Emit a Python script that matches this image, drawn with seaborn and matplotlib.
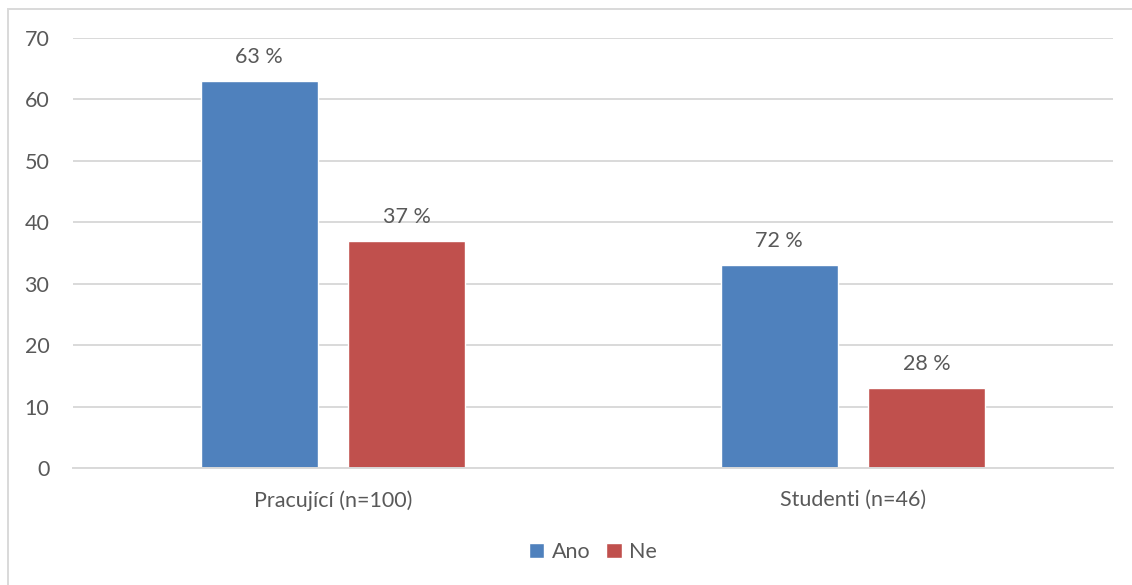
import matplotlib
matplotlib.use("Agg")
import matplotlib.pyplot as plt
from matplotlib.patches import Rectangle
import seaborn as sns
import pandas as pd

# Survey answers by group (counts of respondents)
groups = ["Pracující", "Studenti"]
group_n = [100, 46]
answers = ["Ano", "Ne"]
ano_counts = [63, 33]
ne_counts = [37, 13]
colors = ["#4F81BD", "#C0504D"]

rows = []
for g, n, a, ne in zip(groups, group_n, ano_counts, ne_counts):
    label = f"{g} (n={n})"
    rows.append({"skupina": label, "odpoved": "Ano", "pocet": a, "n": n})
    rows.append({"skupina": label, "odpoved": "Ne", "pocet": ne, "n": n})
df = pd.DataFrame(rows)

sns.set_theme(style="white")
plt.rcParams["font.family"] = ["Lato", "DejaVu Sans"]
text_color = "#595959"
grid_color = "#D9D9D9"
fs = 15.5

fig = plt.figure(figsize=(11.32, 5.85), dpi=100)
ax = fig.add_axes([73 / 1132, 117 / 585, 1040 / 1132, 430 / 585])

sns.barplot(data=df, x="skupina", y="pocet", hue="odpoved", hue_order=answers,
            palette=colors, width=0.568, gap=0.208, saturation=1, ax=ax,
            legend=True, errorbar=None)

ax.set_ylim(0, 70)
ax.set_xlim(-0.5, 1.5)
ax.set_yticks(range(0, 71, 10))
ax.yaxis.grid(True, color=grid_color, linewidth=1.4)
ax.set_axisbelow(True)
for side in ["left", "right", "top"]:
    ax.spines[side].set_visible(False)
ax.spines["bottom"].set_color(grid_color)
ax.spines["bottom"].set_linewidth(1.4)
ax.tick_params(axis="both", length=0, labelsize=fs, colors=text_color)
ax.tick_params(axis="y", pad=17)
ax.tick_params(axis="x", pad=16)
ax.set_xlabel("")
ax.set_ylabel("")

# Percent labels above bars (share within each group)
for container, ans in zip(ax.containers, answers):
    sub = df[df["odpoved"] == ans]
    labels = [f"{round(p / n * 100)} %" for p, n in zip(sub["pocet"], sub["n"])]
    ax.bar_label(container, labels=labels, padding=10, fontsize=fs, color=text_color)

leg = ax.legend(loc="center", bbox_to_anchor=(0.5, -0.196), ncol=2, frameon=False,
                fontsize=fs, handlelength=0.7, handleheight=0.7,
                handletextpad=0.35, columnspacing=0.75)
for t in leg.get_texts():
    t.set_color(text_color)

# Chart frame
fig.patches.append(Rectangle((8 / 1132, -0.01), 1.2, (585 - 9) / 585 + 0.01,
                             transform=fig.transFigure, fill=False,
                             edgecolor=grid_color, linewidth=1.4))

fig.savefig("out.png", dpi=100, facecolor="white")
